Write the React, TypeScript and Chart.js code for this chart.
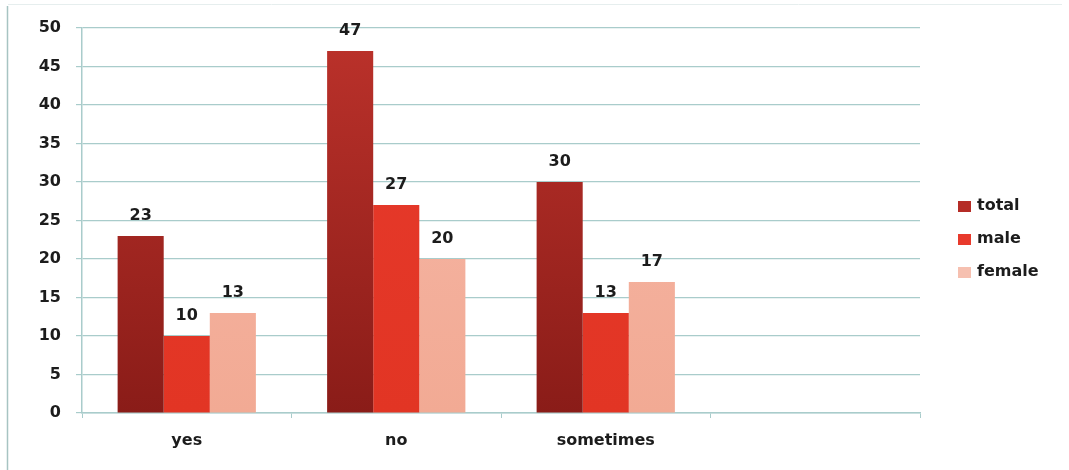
import React, { useEffect, useRef } from "react";
import { Chart, registerables } from "chart.js";

Chart.register(...registerables);

const categories = ["yes", "no", "sometimes", ""];
const seriesNames = ["total", "male", "female"];
const totalValues = [23, 47, 30, null];
const maleValues = [10, 27, 13, null];
const femaleValues = [13, 20, 17, null];
const yTicks = [0, 5, 10, 15, 20, 25, 30, 35, 40, 45, 50];

const FONT = "'DejaVu Sans', 'Open Sans', sans-serif";
const TEXT = "#1c1c1c";
const GRID = "#a9cccb";

// solid colours used for legend swatches
const swatch = ["#b52c26", "#e83a2c", "#f6c0b0"];

function vGradient(top: string, bottom: string) {
  return (ctx: any) => {
    const area = ctx.chart.chartArea;
    if (!area) return bottom;
    const g = ctx.chart.ctx.createLinearGradient(0, area.top, 0, area.bottom);
    g.addColorStop(0, top);
    g.addColorStop(1, bottom);
    return g;
  };
}

const valueLabels = {
  id: "valueLabels",
  afterDatasetsDraw(chart: any) {
    const ctx = chart.ctx;
    ctx.save();
    ctx.font = `700 16px ${FONT}`;
    ctx.fillStyle = TEXT;
    ctx.textAlign = "center";
    ctx.textBaseline = "middle";
    chart.data.datasets.forEach((ds: any, di: number) => {
      const meta = chart.getDatasetMeta(di);
      meta.data.forEach((el: any, i: number) => {
        const v = ds.data[i];
        if (v === null || v === undefined) return;
        ctx.fillText(String(v), el.x, el.y - 20);
      });
    });
    ctx.restore();
  },
};

const sideLegend = {
  id: "sideLegend",
  afterDraw(chart: any) {
    const ctx = chart.ctx;
    const area = chart.chartArea;
    ctx.save();
    ctx.font = `700 16px ${FONT}`;
    ctx.textAlign = "left";
    ctx.textBaseline = "middle";
    chart.data.datasets.forEach((ds: any, i: number) => {
      const cy = 206 + i * 33;
      const bx = area.right + 38;
      ctx.fillStyle = swatch[i];
      ctx.fillRect(bx, cy - 5, 13, 11);
      ctx.fillStyle = TEXT;
      ctx.fillText(ds.label, bx + 19, cy);
    });
    ctx.restore();
  },
};

const frame = {
  id: "frame",
  beforeDraw(chart: any) {
    const ctx = chart.ctx;
    ctx.save();
    ctx.fillStyle = "#ffffff";
    ctx.fillRect(0, 0, chart.width, chart.height);
    ctx.strokeStyle = "#a7c4c2";
    ctx.lineWidth = 1.5;
    ctx.beginPath();
    ctx.moveTo(7.5, 6);
    ctx.lineTo(7.5, chart.height);
    ctx.stroke();
    ctx.strokeStyle = "#e6eeee";
    ctx.lineWidth = 1;
    ctx.beginPath();
    ctx.moveTo(8, 4.5);
    ctx.lineTo(1062, 4.5);
    ctx.stroke();
    ctx.restore();
  },
};

export default function App() {
  const ref = useRef<HTMLCanvasElement | null>(null);

  useEffect(() => {
    if (!ref.current) return;
    const chart = new Chart(ref.current, {
      type: "bar",
      data: {
        labels: categories,
        datasets: [
          {
            label: seriesNames[0],
            data: totalValues,
            backgroundColor: vGradient("#bc322b", "#8a1c18"),
          },
          {
            label: seriesNames[1],
            data: maleValues,
            backgroundColor: vGradient("#e63a2c", "#e23524"),
          },
          {
            label: seriesNames[2],
            data: femaleValues,
            backgroundColor: vGradient("#f6b8a8", "#f2aa94"),
          },
        ],
      },
      options: {
        animation: false,
        responsive: true,
        maintainAspectRatio: false,
        layout: { padding: { top: 28, right: 149, bottom: 0, left: 0 } },
        datasets: {
          bar: { categoryPercentage: 0.66, barPercentage: 1.0 },
        },
        plugins: {
          legend: { display: false },
          tooltip: { enabled: false },
        },
        scales: {
          x: {
            grid: {
              display: true,
              drawOnChartArea: false,
              drawTicks: true,
              tickLength: 5,
              color: GRID,
              offset: true,
            },
            border: { display: true, color: GRID, width: 1.5 },
            ticks: {
              color: TEXT,
              font: { family: FONT, size: 16, weight: "bold" },
              padding: 13,
            },
            afterFit(scale: any) {
              scale.height = 57;
            },
          },
          y: {
            min: 0,
            max: 50,
            afterBuildTicks(scale: any) {
              scale.ticks = yTicks.map((v) => ({ value: v }));
            },
            grid: {
              color: GRID,
              lineWidth: 1.2,
              tickLength: 6,
            },
            border: { display: true, color: GRID, width: 1.5 },
            ticks: {
              color: TEXT,
              font: { family: FONT, size: 16, weight: "bold" },
              padding: 15,
            },
            afterFit(scale: any) {
              scale.width = 82;
            },
          },
        },
      },
      plugins: [frame, valueLabels, sideLegend],
    });
    return () => chart.destroy();
  }, []);

  return (
    <div
      style={{
        position: "fixed",
        left: 0,
        top: 0,
        width: 1069,
        height: 470,
        background: "#ffffff",
      }}
    >
      <canvas ref={ref} />
    </div>
  );
}
